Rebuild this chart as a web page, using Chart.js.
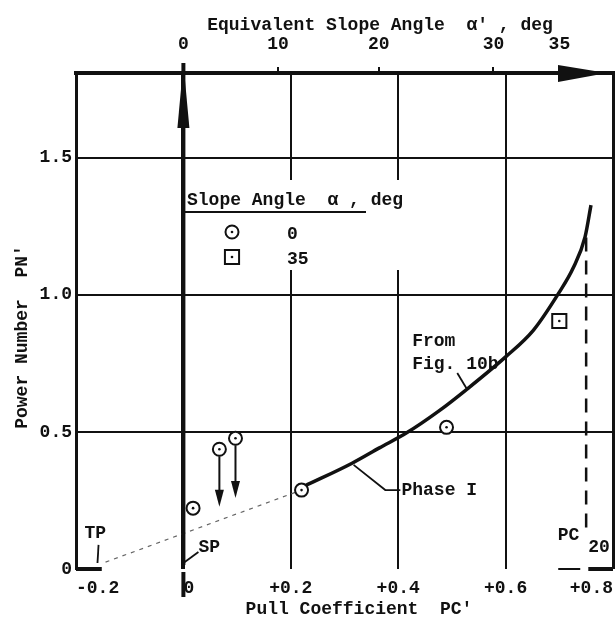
<!DOCTYPE html>
<html>
<head>
<meta charset="utf-8">
<script src="https://cdn.jsdelivr.net/npm/chart.js@4.4.1/dist/chart.umd.min.js"></script>
<style>
  html, body { margin: 0; padding: 0; background: #fff; overflow: hidden; }
  canvas { display: block; }
</style>
</head>
<body>
<canvas id="c" width="615" height="627" style="width:615px;height:627px"></canvas>
<script>
// Power number PN' against pull coefficient PC' (equivalent slope angle on top: PC' = tan α')
const pullTicks = [-0.2, 0, 0.2, 0.4, 0.6, 0.8];
const pullTickLabels = ['-0.2', ' 0', '+0.2', '+0.4', '+0.6', '+0.8'];
const powerTicks = [0, 0.5, 1.0, 1.5];
const powerTickLabels = ['0', '0.5', '1.0', '1.5'];
const slopeDegTicks = [0, 10, 20, 30, 35];

// measured points, slope angle 0 deg
const level0PC = [0.018, 0.067, 0.097, 0.22, 0.49];
const level0PN = [0.222, 0.437, 0.477, 0.288, 0.517];
// measured point, slope angle 35 deg
const slope35PC = [0.70];
const slope35PN = [0.905];
// two level points whose PN' drops to a lower value
const arrowPC = [0.067, 0.097];
const arrowFromPN = [0.437, 0.477];
const arrowToPN = [0.227, 0.259];
// Phase I curve, from Fig. 10b
const phaseCurvePC = [0.226, 0.315, 0.365, 0.415, 0.476, 0.526, 0.600, 0.652, 0.698, 0.726, 0.748, 0.759];
const phaseCurvePN = [0.303, 0.387, 0.442, 0.496, 0.577, 0.653, 0.774, 0.872, 1.004, 1.099, 1.212, 1.328];
// extension from the towed point TP to the start of Phase I
const tpLinePC = [-0.145, 0.22];
const tpLinePN = [0.025, 0.288];
// PC'20 marker
const pc20PC = [0.750, 0.750];
const pc20PN = [1.21, 0.15];

const FONT = '"Liberation Mono", "DejaVu Sans Mono", monospace';
const INK = '#111';
const zip = (xs, ys) => xs.map((v, i) => ({ x: v, y: ys[i] }));
const near = (a, b) => Math.abs(a - b) < 1e-9;
const gridWidth = v => near(v, 0) ? 4 : (near(v, -0.2) || near(v, 0.8)) ? 3 : 2;

// text notes, anchored in data units
const notes = [
  { text: 'From',     pc: 0.426,  pn: 0.832, align: 'left' },
  { text: 'Fig. 10b', pc: 0.426,  pn: 0.748, align: 'left' },
  { text: 'Phase I',  pc: 0.406,  pn: 0.288, align: 'left' },
  { text: 'TP',       pc: -0.164, pn: 0.131, align: 'center' },
  { text: 'SP',       pc: 0.028,  pn: 0.077, align: 'left' },
  { text: 'PC',       pc: 0.717,  pn: 0.124, align: 'center' },
  { text: '20',       pc: 0.754,  pn: 0.077, align: 'left' }
];
const leaders = [
  [[0.510, 0.715], [0.529, 0.653]],
  [[0.317, 0.380], [0.376, 0.288], [0.404, 0.288]],
  [[-0.158, 0.088], [-0.160, 0.022]],
  [[0.0, 0.022], [0.028, 0.062]]
];
const legendTitle = 'Slope Angle  \u03b1 , deg';
const legendLabels = ['0', '35'];

const FONT_WEIGHT = 'bold';
Chart.defaults.font.family = FONT;
Chart.defaults.font.size = 18;
Chart.defaults.font.weight = FONT_WEIGHT;
Chart.defaults.color = INK;

const markerStyles = [
  { pointStyle: 'circle', radius: 6.5, borderWidth: 2, rotation: 0 },
  { pointStyle: 'rect', radius: 10, borderWidth: 2, rotation: 0 }
];

const overlay = {
  id: 'overlay',
  beforeDatasetsDraw(chart) {
    // blank panel behind the legend, interrupting the grid
    const { ctx, scales: { x } } = chart;
    ctx.save();
    ctx.fillStyle = '#fff';
    const l = x.getPixelForValue(0) + 3;
    ctx.fillRect(l, 180, 402 - l, 90);
    ctx.restore();
  },
  afterDatasetsDraw(chart) {
    const { ctx, chartArea: a, scales: { x, y } } = chart;
    const px = v => x.getPixelForValue(v);
    const py = v => y.getPixelForValue(v);
    const line = (x1, y1, x2, y2, w) => {
      ctx.lineWidth = w; ctx.beginPath(); ctx.moveTo(x1, y1); ctx.lineTo(x2, y2); ctx.stroke();
    };
    const tri = (p1, p2, p3) => {
      ctx.beginPath(); ctx.moveTo(p1[0], p1[1]); ctx.lineTo(p2[0], p2[1]); ctx.lineTo(p3[0], p3[1]); ctx.closePath(); ctx.fill();
    };
    ctx.save();
    ctx.strokeStyle = INK; ctx.fillStyle = INK; ctx.lineCap = 'butt';

    // PC' = 0 axis with its upward arrow
    const x0 = px(0);
    line(x0, a.top - 10, x0, a.bottom - 4, 4);
    line(x0, a.bottom + 3, x0, a.bottom + 28, 4);
    tri([x0, a.top - 10], [x0 - 6, a.top + 55], [x0 + 6, a.top + 55]);
    // arrow on the equivalent slope angle axis
    tri([a.right - 6, a.top], [a.right - 55, a.top - 8], [a.right - 55, a.top + 9]);
    line(a.right - 6, a.top, a.right + 2, a.top, 4);

    // pieces of the PN' = 0 line
    const yb = py(0);
    line(a.left, yb, px(-0.152), yb, 4);
    line(px(0.698), yb, px(0.739), yb, 2);
    line(px(0.754), yb, a.right, yb, 4);

    // drop arrows
    arrowPC.forEach((v, i) => {
      const xx = px(v), y1 = py(arrowFromPN[i]) + 7, y2 = py(arrowToPN[i]);
      line(xx, y1, xx, y2 - 12, 2);
      tri([xx, y2], [xx - 4.5, y2 - 17], [xx + 4.5, y2 - 17]);
    });

    // leader lines
    ctx.lineWidth = 1.8;
    leaders.forEach(pts => {
      ctx.beginPath();
      pts.forEach((p, i) => i ? ctx.lineTo(px(p[0]), py(p[1])) : ctx.moveTo(px(p[0]), py(p[1])));
      ctx.stroke();
    });

    // notes
    ctx.font = FONT_WEIGHT + ' 18px ' + FONT;
    ctx.textBaseline = 'middle';
    notes.forEach(n => {
      ctx.textAlign = n.align;
      ctx.fillText(n.text, px(n.pc), py(n.pn));
    });

    // legend
    ctx.textAlign = 'left';
    ctx.fillText(legendTitle, 187, 200);
    line(x0, 212, 366, 212, 2);
    const rows = [232, 257];
    legendLabels.forEach((t, i) => {
      const st = markerStyles[i];
      ctx.fillStyle = '#fff';
      ctx.strokeStyle = INK;
      Chart.helpers.drawPoint(ctx, st, 232, rows[i]);
      ctx.fillStyle = INK;
      ctx.beginPath(); ctx.arc(232, rows[i], 1.3, 0, Math.PI * 2); ctx.fill();
      ctx.fillText(t, 287, rows[i] + 2);
    });

    // axis titles
    ctx.textAlign = 'center';
    ctx.fillText('Equivalent Slope Angle  \u03b1\' , deg', 380, 25);
    ctx.fillText('Pull Coefficient  PC\'', 359, 609);
    ctx.translate(22, 337);
    ctx.rotate(-Math.PI / 2);
    ctx.fillText('Power Number  PN\'', 0, 0);
    ctx.restore();
  }
};

new Chart(document.getElementById('c'), {
  type: 'scatter',
  data: {
    datasets: [
      { label: 'centres', data: zip(level0PC.concat(slope35PC), level0PN.concat(slope35PN)),
        pointRadius: 1.3, pointBackgroundColor: INK, pointBorderWidth: 0, order: 0 },
      { label: '0', data: zip(level0PC, level0PN), pointStyle: 'circle', pointRadius: 6.5,
        pointBorderWidth: 2, pointBorderColor: INK, pointBackgroundColor: '#fff', order: 1 },
      { label: '35', data: zip(slope35PC, slope35PN), pointStyle: 'rect', pointRadius: 10,
        pointBorderWidth: 2, pointBorderColor: INK, pointBackgroundColor: '#fff', order: 1 },
      { label: 'Phase I', data: zip(phaseCurvePC, phaseCurvePN), showLine: true, borderColor: INK,
        borderWidth: 3.5, pointRadius: 0, cubicInterpolationMode: 'monotone', order: 3 },
      { label: 'TP', data: zip(tpLinePC, tpLinePN), showLine: true, borderColor: '#666',
        borderWidth: 1.2, borderDash: [4, 5], pointRadius: 0, order: 4 },
      { label: 'PC20', data: zip(pc20PC, pc20PN), showLine: true, borderColor: INK,
        borderWidth: 2.5, borderDash: [14, 9], pointRadius: 0, order: 4 }
    ]
  },
  options: {
    responsive: false,
    animation: false,
    devicePixelRatio: 1,
    layout: { autoPadding: false, padding: { left: 0, right: 2, top: 0, bottom: 0 } },
    plugins: { legend: { display: false }, tooltip: { enabled: false } },
    scales: {
      x: {
        type: 'linear', position: 'bottom', min: -0.2, max: 0.8,
        afterBuildTicks: s => { s.ticks = pullTicks.map(v => ({ value: v })); },
        afterFit: s => { s.height = 58; s.paddingLeft = 0; s.paddingRight = 0; },
        grid: { drawTicks: false, color: INK, lineWidth: c => gridWidth(c.tick.value) },
        border: { display: false },
        ticks: { autoSkip: false, maxRotation: 0, padding: 9, align: 'inner',
          callback: (v, i) => pullTickLabels[i] }
      },
      x2: {
        type: 'linear', position: 'top', min: -0.2, max: 0.8,
        afterBuildTicks: s => { s.ticks = slopeDegTicks.map(d => ({ value: Math.tan(d * Math.PI / 180) })); },
        afterFit: s => { s.height = 73; s.paddingLeft = 0; s.paddingRight = 0; },
        grid: { drawOnChartArea: false, drawTicks: true, tickLength: 6, color: INK, lineWidth: 2 },
        border: { display: true, color: INK, width: 4 },
        ticks: { autoSkip: false, maxRotation: 0, padding: 12,
          callback: (v, i) => String(slopeDegTicks[i]) }
      },
      y: {
        type: 'linear', min: 0, max: 1.81,
        afterBuildTicks: s => { s.ticks = powerTicks.map(v => ({ value: v })); },
        afterFit: s => { s.width = 76; s.paddingTop = 0; s.paddingBottom = 0; },
        grid: { drawTicks: false, lineWidth: 2,
          color: c => (c.tick && near(c.tick.value, 0)) ? 'rgba(0,0,0,0)' : INK },
        border: { display: true, color: INK, width: 3 },
        ticks: { padding: 4, callback: (v, i) => powerTickLabels[i] }
      }
    }
  },
  plugins: [overlay]
});
</script>
</body>
</html>
